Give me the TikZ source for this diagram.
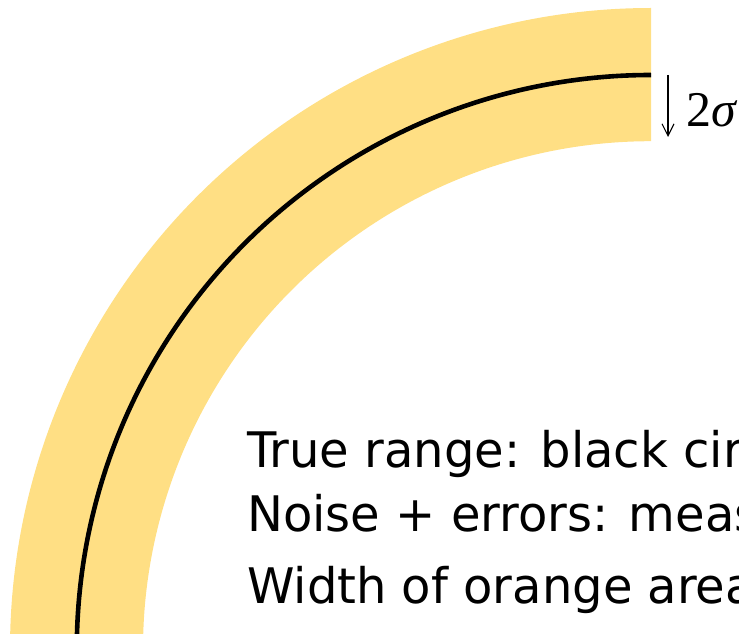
\documentclass[tikz,border=0pt]{standalone}
\usepackage{fontspec}
\setmainfont[FakeStretch=0.98]{DejaVu Sans}
\newfontfamily\symfont{Liberation Serif}
\usetikzlibrary{arrows.meta,calc}
\definecolor{bandyellow}{RGB}{255,223,132}
\tikzset{
  band/.style={fill=bandyellow, draw=none},
  truecircle/.style={draw=black, line width=4.6pt},
  sigmaarrow/.style={draw=black, line width=1.1pt, -{Straight Barb[length=12pt, width=12pt, line width=1.1pt]}},
  caption/.style={anchor=base west, inner sep=0pt, font=\fontsize{49}{58}\selectfont},
  sigmalabel/.style={anchor=base west, inner sep=0pt, font=\symfont\fontsize{50}{56}\selectfont}
}
\begin{document}
\begin{tikzpicture}[x=1pt, y=1pt]
\useasboundingbox (0,0) rectangle (739,633);
\clip (0,0) rectangle (739,633);
\coordinate (c) at (651,-16.2);
% band
\path[band] (651,625) arc[start angle=90, end angle=182, radius=641]
  -- ($(c)+(182:508)$) arc[start angle=182, end angle=90, radius=508] -- cycle;
% true range circle
\draw[truecircle] (651,558) arc[start angle=90, end angle=182, radius=574.2];
% arrow and label
\coordinate (atop) at (668,558);
\coordinate (abot) at (668,496);
\draw[sigmaarrow] (atop) -- (abot);
\node[sigmalabel] (sig) at (686,506) {2\textit{σ}};
% captions
\node[caption] (l1) at (247,166) {True range: black circle};
\node[caption] (l2) at (247,102) {Noise + errors: measured};
\node[caption] (l3) at (247,30) {Width of orange area};
\end{tikzpicture}
\end{document}
